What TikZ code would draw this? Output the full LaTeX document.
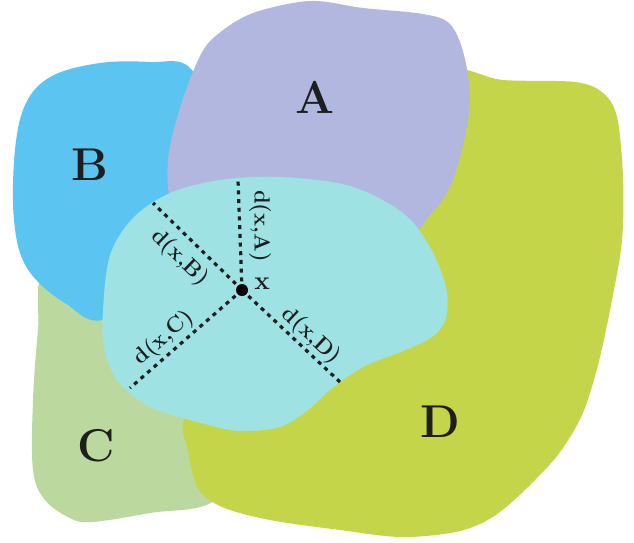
\documentclass[tikz,border=0pt]{standalone}
\usepackage{fontspec}
\definecolor{colA}{HTML}{B1B7DF}
\definecolor{colB}{HTML}{5BC4F1}
\definecolor{colC}{HTML}{BBD89E}
\definecolor{colD}{HTML}{C4D54A}
\definecolor{colX}{HTML}{9FE2E3}
\definecolor{ink}{HTML}{1E1E1E}
\tikzset{
  region/.style={draw=none},
  biglabel/.style={text=ink, font=\fontsize{46}{50}\selectfont\bfseries, inner sep=0pt},
  distlabel/.style={text=ink, font=\fontsize{22}{25}\selectfont\bfseries, inner sep=0pt},
  distline/.style={draw=ink, line width=3.2pt, dash pattern=on 4pt off 4.7pt},
}
\begin{document}
\begin{tikzpicture}[x=1pt,y=-1pt]
\useasboundingbox (0,0) rectangle (634,542);
% C
\fill[colC, region] plot[smooth cycle, tension=0.6] coordinates {
 (45,272) (38,330) (33,400) (33,470) (45,500) (70,518) (92,522) (150,513) (215,500) (235,440) (210,300) (110,272)};
% B
\fill[colB, region] plot[smooth cycle, tension=0.6] coordinates {
 (100,63) (150,62) (190,68) (215,130) (205,250) (110,318) (65,303) (27,268) (14,220) (15,150) (26,103) (52,76)};
% D
\fill[colD, region] plot[smooth cycle, tension=0.55] coordinates {
 (450,72) (503,80) (575,82) (603,93) (617,117) (623,177) (622,240) (612,300) (598,365) (582,415) (560,452) (535,480) (505,508) (480,524) (450,533) (400,537) (340,530) (270,520) (222,507) (198,488) (188,450) (187,410) (250,300) (420,140)};
% A
\fill[colA, region] plot[smooth cycle, tension=0.55] coordinates {
 (172,205) (168,160) (180,108) (200,56) (218,34) (253,13) (310,1) (363,8) (423,14) (450,24) (464,55) (470,100) (463,145) (450,187) (430,215) (400,240) (300,240) (200,235)};
% central region
\fill[colX, region] plot[smooth cycle, tension=0.55] coordinates {
 (103,310) (110,255) (133,218) (170,193) (220,180) (280,177) (350,186) (403,213) (430,247) (446,287) (446,318) (432,337) (403,351) (363,367) (330,390) (308,410) (280,427) (240,431) (205,424) (150,407) (117,380) (104,347)};
% labels
\node[biglabel] (lA) at (315,97) {A};
\node[biglabel] (lB) at (90,165) {B};
\node[biglabel] (lC) at (96,446) {C};
\node[biglabel] (lD) at (440,422) {D};
% point and distances
\coordinate (xc) at (242,290);
\coordinate (eA) at (238,180);
\coordinate (eB) at (153,203);
\coordinate (eC) at (130,388);
\coordinate (eD) at (340,382);
\draw[distline] (xc) -- (eA);
\draw[distline] (xc) -- (eB);
\draw[distline] (xc) -- (eC);
\draw[distline] (xc) -- (eD);
\node[circle, fill=black, inner sep=0pt, minimum size=12pt] (x) at (xc) {};
\node[text=ink, font=\fontsize{26}{28}\selectfont\bfseries, inner sep=0pt] (xl) at (262,284) {x};
\node[distlabel, rotate=-90] (dA) at (260,226) {d(x,A)};
\node[distlabel, rotate=-44] (dB) at (180,258) {d(x,B)};
\node[distlabel, rotate=41] (dC) at (164,338) {d(x,C)};
\node[distlabel, rotate=-43] (dD) at (311,336) {d(x,D)};
\end{tikzpicture}
\end{document}
